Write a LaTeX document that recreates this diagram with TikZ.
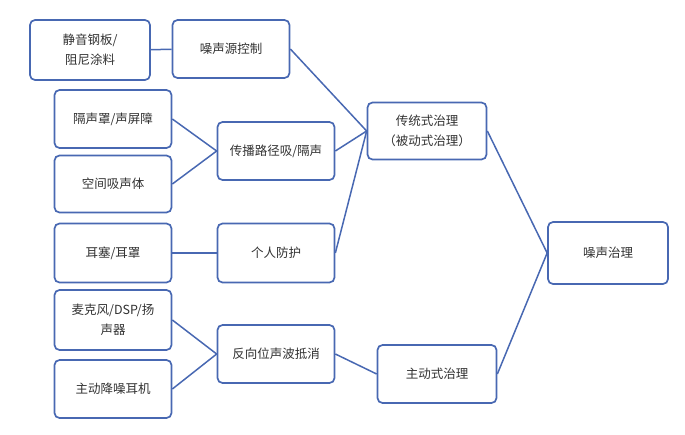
\documentclass[tikz,border=0pt]{standalone}
\usepackage{fontspec}
\setmainfont{Noto Sans CJK SC}
\definecolor{boxblue}{RGB}{72,104,178}
\definecolor{txtgray}{RGB}{50,50,50}

\begin{document}
\begin{tikzpicture}[x=1pt,y=-1pt,
    box/.style={draw=boxblue,line width=1.7pt,rounded corners=5pt,fill=white,
        minimum width=117pt,minimum height=58pt,align=center,text=txtgray,
        font=\fontsize{12.5}{20}\selectfont},
    link/.style={draw=boxblue,line width=1.5pt}]
    \useasboundingbox(0,0)rectangle(685,434);

    \node[box,minimum width=120pt,minimum height=60pt](plate)at(90,50){静音钢板/\\阻尼涂料};
    \node[box](source)at(231,49){噪声源控制};
    \node[box](cover)at(113,119){隔声罩/声屏障};
    \node[box](path)at(276,151){传播路径吸/隔声};
    \node[box,minimum height=57pt](absorb)at(113,184){空间吸声体};
    \node[box,minimum height=59pt](plug)at(113,253){耳塞/耳罩};
    \node[box,minimum height=59pt](person)at(276,253){个人防护};
    \node[box,minimum height=60pt](mic)at(113,320){麦克风/DSP/扬\\声器};
    \node[box](phone)at(113,389){主动降噪耳机};
    \node[box](cancel)at(276,354){反向位声波抵消};
    \node[box,minimum width=119pt,minimum height=57pt](passive)at(427,131){传统式治理\\（被动式治理）};
    \node[box,minimum width=119pt](active)at(437,374){主动式治理};
    \node[box,minimum width=120pt,minimum height=62pt](noise)at(608,253){噪声治理};

    \draw[link](plate)--(source);
    \draw[link](cover.east)--(path.west);
    \draw[link](absorb.east)--(path.west);
    \draw[link](plug)--(person);
    \draw[link](mic.east)--(cancel.west);
    \draw[link](phone.east)--(cancel.west);
    \draw[link](source.east)--(passive.west);
    \draw[link](path.east)--(passive.west);
    \draw[link](person.east)--(passive.west);
    \draw[link](cancel.east)--(active.west);
    \draw[link](passive.east)--(noise.west);
    \draw[link](active.east)--(noise.west);
\end{tikzpicture}
\end{document}
